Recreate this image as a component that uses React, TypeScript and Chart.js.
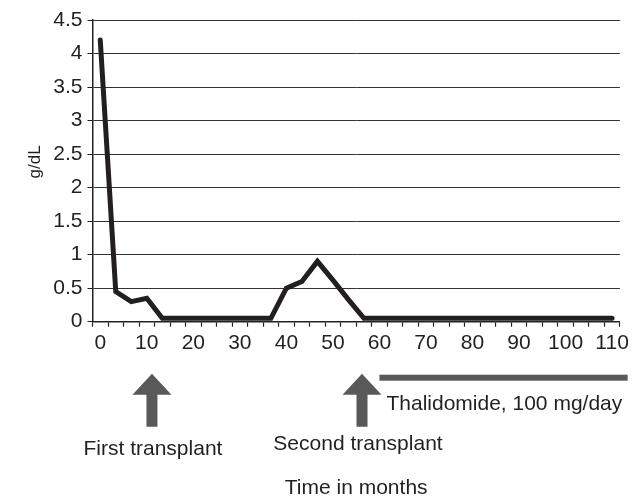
import React, { useEffect, useRef } from 'react';
import { Chart, registerables } from 'chart.js';

Chart.register(...registerables);

// Time axis (months), one category roughly every 10/3 months
const months = [0, 3, 7, 10, 13, 17, 20, 23, 27, 30, 33, 37, 40, 43, 47, 50, 53, 57, 60, 63, 67, 70, 73, 77, 80, 83, 87, 90, 93, 97, 100, 103, 107, 110];
// Serum value in g/dL
const values = [4.2, 0.45, 0.3, 0.35, 0.05, 0.05, 0.05, 0.05, 0.05, 0.05, 0.05, 0.05, 0.5, 0.6, 0.9, 0.62, 0.33, 0.05, 0.05, 0.05, 0.05, 0.05, 0.05, 0.05, 0.05, 0.05, 0.05, 0.05, 0.05, 0.05, 0.05, 0.05, 0.05, 0.05];
const labeledMonths = [0, 10, 20, 30, 40, 50, 60, 70, 80, 90, 100, 110];

const yMin = 0;
const yMax = 4.5;
const yStep = 0.5;

const firstTransplantMonth = 11;
const secondTransplantMonth = 56.5;
const thalidomideStartMonth = 60;
const thalidomideEndMonth = 113;

const yTitle = 'g/dL';
const xTitle = 'Time in months';
const firstLabel = 'First transplant';
const secondLabel = 'Second transplant';
const thalidomideLabel = 'Thalidomide, 100 mg/day';

const FONT = '"Liberation Sans", Arial, sans-serif';
const TEXT = '#231f20';
const GREY = '#595959';

function monthToIndex(m: number): number {
  for (let i = 0; i < months.length - 1; i++) {
    if (m >= months[i] && m <= months[i + 1]) {
      return i + (m - months[i]) / (months[i + 1] - months[i]);
    }
  }
  const n = months.length - 1;
  const step = months[n] - months[n - 1];
  return n + (m - months[n]) / step;
}

const annotationPlugin = {
  id: 'annotationsCustom',
  afterDraw(chart: any) {
    const { ctx, chartArea, scales } = chart;
    const xs = scales.x;
    const px = (m: number) => xs.getPixelForValue(monthToIndex(m));
    const b = chartArea.bottom;

    ctx.save();
    // y title
    ctx.fillStyle = TEXT;
    ctx.font = `17px ${FONT}`;
    ctx.textAlign = 'center';
    ctx.textBaseline = 'middle';
    ctx.save();
    ctx.translate(chartArea.left - 57, (chartArea.top + chartArea.bottom) / 2 - 9);
    ctx.rotate(-Math.PI / 2);
    ctx.fillText(yTitle, 0, 0);
    ctx.restore();

    // arrows
    const drawArrow = (cx: number) => {
      const apex = b + 52;
      const base = b + 73;
      const bottom = b + 105;
      const hw = 19.5;
      const sw = 5.5;
      ctx.fillStyle = GREY;
      ctx.beginPath();
      ctx.moveTo(cx, apex);
      ctx.lineTo(cx + hw, base);
      ctx.lineTo(cx + sw, base);
      ctx.lineTo(cx + sw, bottom);
      ctx.lineTo(cx - sw, bottom);
      ctx.lineTo(cx - sw, base);
      ctx.lineTo(cx - hw, base);
      ctx.closePath();
      ctx.fill();
    };
    const x1 = px(firstTransplantMonth);
    const x2 = px(secondTransplantMonth);
    drawArrow(x1);
    drawArrow(x2);

    // thalidomide bar
    const t0 = px(thalidomideStartMonth);
    const t1 = px(thalidomideEndMonth);
    ctx.fillStyle = GREY;
    ctx.fillRect(t0, b + 53, t1 - t0, 6);

    ctx.fillStyle = TEXT;
    ctx.font = `21px ${FONT}`;
    ctx.textBaseline = 'alphabetic';
    ctx.textAlign = 'left';
    ctx.fillText(thalidomideLabel, t0 + 7, b + 88);

    ctx.textAlign = 'center';
    ctx.fillText(firstLabel, x1 + 1, b + 133);
    ctx.fillText(secondLabel, x2 - 4, b + 128);
    ctx.fillText(xTitle, (chartArea.left + chartArea.right) / 2, b + 172);
    ctx.restore();
  },
};

export default function App() {
  const canvasRef = useRef<HTMLCanvasElement | null>(null);

  useEffect(() => {
    const canvas = canvasRef.current;
    if (!canvas) return;
    const chart = new Chart(canvas, {
      type: 'line',
      data: {
        labels: months.map(String),
        datasets: [
          {
            data: values,
            borderColor: TEXT,
            borderWidth: 5,
            pointRadius: 0,
            tension: 0,
            borderCapStyle: 'round',
            fill: false,
          },
        ],
      },
      options: {
        animation: false,
        responsive: false,
        maintainAspectRatio: false,
        layout: { padding: { top: 20, right: 10, left: 0, bottom: 0 } },
        plugins: {
          legend: { display: false },
          tooltip: { enabled: false },
        },
        scales: {
          x: {
            type: 'category',
            offset: true,
            border: { display: true, color: '#222', width: 1.5 },
            grid: {
              display: true,
              offset: true,
              drawOnChartArea: false,
              drawTicks: true,
              tickLength: 5,
              tickColor: '#222',
              tickWidth: 1.2,
            },
            ticks: {
              autoSkip: false,
              maxRotation: 0,
              minRotation: 0,
              padding: 4,
              color: TEXT,
              font: { family: FONT, size: 21 },
              callback: (_v: any, i: number) =>
                labeledMonths.includes(months[i]) ? String(months[i]) : '',
            },
            afterFit: (s: any) => {
              s.height = 175.3;
            },
          },
          y: {
            min: yMin,
            max: yMax,
            border: { display: true, color: '#222', width: 1.5 },
            grid: {
              color: '#333',
              lineWidth: 1,
              tickLength: 5,
              tickColor: '#222',
            },
            ticks: {
              stepSize: yStep,
              padding: 5,
              color: TEXT,
              font: { family: FONT, size: 21 },
              callback: (v: any) => String(Math.round(Number(v) * 10) / 10),
            },
            afterFit: (s: any) => {
              s.width = 92.5;
            },
          },
        },
      },
      plugins: [annotationPlugin],
    });
    return () => chart.destroy();
  }, []);

  return (
    <div style={{ position: 'fixed', left: 0, top: 0, width: 633, height: 497, background: '#fff' }}>
      <canvas ref={canvasRef} width={633} height={497} />
    </div>
  );
}
